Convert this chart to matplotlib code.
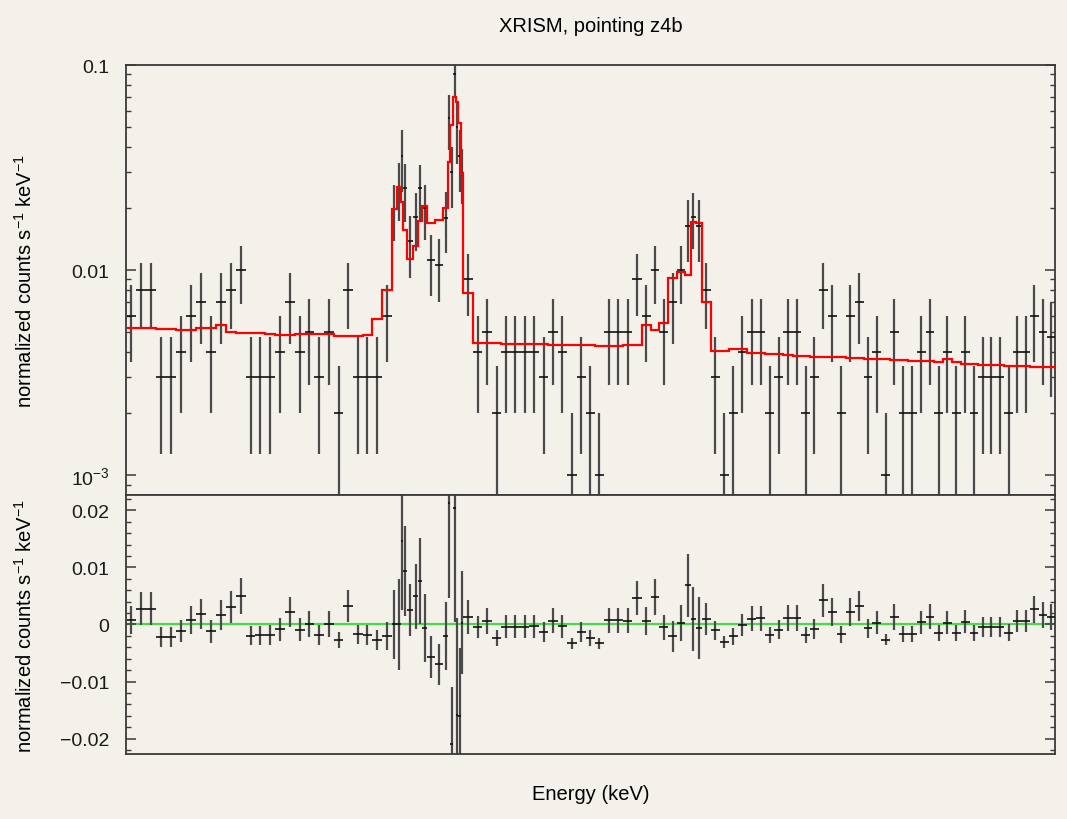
import matplotlib
matplotlib.use("Agg")
import matplotlib.pyplot as plt
import numpy as np
from matplotlib.ticker import FixedLocator, FuncFormatter, MultipleLocator

plt.rcParams['font.family'] = ['Liberation Sans', 'DejaVu Sans']
plt.rcParams['mathtext.default'] = 'regular'

# Энергетические бины (кэВ)
edges = [6.3006, 6.3122, 6.3237, 6.3355, 6.3474, 6.3592, 6.3710, 6.3825, 6.3944, 6.4062,
         6.4181, 6.4299, 6.4417, 6.4533, 6.4649, 6.4767, 6.4883, 6.5001, 6.5114, 6.5228,
         6.5344, 6.5463, 6.5575, 6.5690, 6.5803, 6.5909, 6.6028, 6.6146,
         6.6205, 6.6253, 6.6276, 6.6324, 6.6402, 6.6461, 6.6508, 6.6568, 6.6659, 6.6757,
         6.6816, 6.6836, 6.6876, 6.6908, 6.6935, 6.6963, 6.6994, 6.7112,
         6.7219, 6.7331, 6.7444, 6.7555, 6.7665, 6.7776, 6.7888, 6.8001, 6.8112, 6.8224,
         6.8334, 6.8443, 6.8550, 6.8660, 6.8775, 6.8885, 6.8995, 6.9104, 6.9211, 6.9315,
         6.9420, 6.9527, 6.9619, 6.9687, 6.9747, 6.9820, 6.9921, 7.0028, 7.0137, 7.0244,
         7.0353, 7.0462, 7.0569, 7.0675, 7.0783, 7.0892, 7.0996, 7.1099, 7.1204, 7.1310,
         7.1415, 7.1520, 7.1626, 7.1733, 7.1837, 7.1942, 7.2047, 7.2151, 7.2256, 7.2360,
         7.2467, 7.2571, 7.2674, 7.2778, 7.2884, 7.2988, 7.3091, 7.3192, 7.3293, 7.3399,
         7.3501, 7.3601, 7.3704, 7.3807, 7.3906, 7.4000]

# Данные: normalized counts s^-1 keV^-1
rate = [0.006, 0.008, 0.008, 0.003, 0.003, 0.004, 0.006, 0.007, 0.004, 0.007,
        0.008, 0.010, 0.003, 0.003, 0.003, 0.004, 0.007, 0.004, 0.005, 0.003,
        0.005, 0.002, 0.008, 0.003, 0.003, 0.003, 0.006,
        0.0199, 0.0253, 0.0361, 0.0250, 0.0138, 0.0181, 0.0250, 0.0200, 0.0112, 0.0106,
        0.0180, 0.055, 0.030, 0.090, 0.050, 0.036, 0.030, 0.009,
        0.004, 0.005, 0.002, 0.004, 0.004, 0.004, 0.004, 0.003, 0.005, 0.004,
        0.001, 0.003, 0.002, 0.001, 0.005, 0.005, 0.005, 0.009, 0.006, 0.010,
        0.005, 0.007, 0.010, 0.0164, 0.0182, 0.0164, 0.008, 0.003, 0.001, 0.002,
        0.004, 0.005, 0.005, 0.002, 0.003, 0.005, 0.005, 0.002, 0.003, 0.008,
        0.006, 0.002, 0.006, 0.007, 0.003, 0.004, 0.001, 0.005, 0.002, 0.002,
        0.004, 0.005, 0.002, 0.004, 0.002, 0.004, 0.002, 0.003, 0.003, 0.003,
        0.002, 0.004, 0.004, 0.006, 0.005, 0.0047]

rate_err = [0.00245, 0.00283, 0.00283, 0.00173, 0.00173, 0.002, 0.00245, 0.00265, 0.002, 0.00265,
            0.00283, 0.00316, 0.00173, 0.00173, 0.00173, 0.002, 0.00265, 0.002, 0.00224, 0.00173,
            0.00224, 0.00141, 0.00283, 0.00173, 0.00173, 0.00173, 0.00245,
            0.0060, 0.0079, 0.0121, 0.0079, 0.0046, 0.0057, 0.0076, 0.0060, 0.0037, 0.0036,
            0.0059, 0.0166, 0.0100, 0.0200, 0.0170, 0.0120, 0.0090, 0.0030,
            0.002, 0.00224, 0.00141, 0.002, 0.002, 0.002, 0.002, 0.00173, 0.00224, 0.002,
            0.001, 0.00173, 0.00141, 0.001, 0.00224, 0.00224, 0.00224, 0.003, 0.00245, 0.00316,
            0.00224, 0.00265, 0.00316, 0.0055, 0.0056, 0.0055, 0.00283, 0.00173, 0.001, 0.00141,
            0.002, 0.00224, 0.00224, 0.00141, 0.00173, 0.00224, 0.00224, 0.00141, 0.00173, 0.00283,
            0.00245, 0.00141, 0.00245, 0.00265, 0.00173, 0.002, 0.001, 0.00224, 0.00141, 0.00141,
            0.002, 0.00224, 0.00141, 0.002, 0.00141, 0.002, 0.00141, 0.00173, 0.00173, 0.00173,
            0.00141, 0.002, 0.002, 0.00245, 0.00224, 0.0023]

# Модель (folded), по бинам
model = [0.0052, 0.0052, 0.0052, 0.00515, 0.00515, 0.00513, 0.00513, 0.0052, 0.0052, 0.0054,
         0.00497, 0.00495, 0.00493, 0.00492, 0.0049, 0.00485, 0.00485, 0.0049, 0.0049, 0.0049,
         0.0049, 0.00476, 0.00475, 0.00475, 0.0048, 0.00577, 0.008,
         0.0199, 0.0253, 0.0215, 0.0156, 0.0113, 0.01315, 0.0174, 0.0206, 0.01694, 0.01758,
         0.0200, 0.0337, 0.0509, 0.0696, 0.0658, 0.0521, 0.0297, 0.00773,
         0.00443, 0.0044, 0.0044, 0.00438, 0.00437, 0.00436, 0.00435, 0.00434, 0.00433, 0.00432,
         0.00431, 0.0043, 0.0043, 0.00428, 0.00428, 0.00427, 0.0043, 0.0043, 0.0054, 0.0051,
         0.0055, 0.0091, 0.00975, 0.0095, 0.0172, 0.0170, 0.0070, 0.00403, 0.00405, 0.0041,
         0.0041, 0.00395, 0.00392, 0.0039, 0.00388, 0.00386, 0.00382, 0.0038, 0.00378, 0.00377,
         0.00376, 0.00375, 0.00373, 0.00372, 0.0037, 0.00369, 0.00367, 0.00365, 0.00364, 0.00362,
         0.00361, 0.0036, 0.00356, 0.00368, 0.00357, 0.0035, 0.00348, 0.00346, 0.00345, 0.00344,
         0.00341, 0.0034, 0.00339, 0.00337, 0.00336, 0.00335]

bg = '#f4f1eb'
spine_col = '#3a3a3a'
bar_col = '#4a4a4a'


def style_axis(ax):
    ax.set_facecolor(bg)
    for s in ax.spines.values():
        s.set_color(spine_col)
        s.set_linewidth(1.3)
    ax.tick_params(axis='x', which='both', bottom=False, top=False, labelbottom=False)
    ax.tick_params(axis='y', which='both', direction='in', left=True, right=True,
                   colors=spine_col, labelcolor='#1a1a1a', labelsize=14, pad=12)
    ax.tick_params(axis='y', which='major', length=7, width=1.1)
    ax.tick_params(axis='y', which='minor', length=3.5, width=1.0)


def draw_points(ax, x, y, hw, lo, hi):
    ax.vlines(x, lo, hi, color=bar_col, lw=1.6, zorder=2)
    ax.hlines(y, x - hw, x + hw, color='#111111', lw=1.2, zorder=3)


e = np.array(edges)
x = 0.5 * (e[:-1] + e[1:])
hw = 0.5 * (e[1:] - e[:-1])
y = np.array(rate)
dy = np.array(rate_err)
m = np.array(model)
res = y - m

fig = plt.figure(figsize=(10.67, 8.2), dpi=100, facecolor=bg)
ax1 = fig.add_axes([0.1181, 0.3951, 0.8707, 0.5244])
ax2 = fig.add_axes([0.1181, 0.0793, 0.8707, 0.3158])

# верхняя панель
style_axis(ax1)
ax1.set_yscale('log')
ax1.set_xlim(6.3, 7.4)
ax1.set_ylim(0.0008, 0.1)
draw_points(ax1, x, y, hw, np.maximum(y - dy, 1e-6), y + dy)
ax1.stairs(m, e, baseline=None, color='#ff0000', lw=1.6, zorder=4)
ax1.yaxis.set_major_locator(FixedLocator([0.001, 0.01, 0.1]))
ax1.yaxis.set_major_formatter(FuncFormatter(
    lambda v, p: {0.1: '0.1', 0.01: '0.01'}.get(round(v, 6), r'$10^{-3}$')))
ax1.yaxis.set_minor_locator(FixedLocator(
    [k * 10.0 ** d for d in (-4, -3, -2) for k in range(2, 10)]))
ax1.yaxis.set_minor_formatter(FuncFormatter(lambda v, p: ''))

# нижняя панель: остатки
style_axis(ax2)
ax2.set_xlim(6.3, 7.4)
ax2.set_ylim(-0.0227, 0.0227)
ax2.axhline(0, color='#44dd44', lw=1.6, zorder=1)
draw_points(ax2, x, res, hw, res - dy, res + dy)
ax2.yaxis.set_major_locator(MultipleLocator(0.01))
ax2.yaxis.set_minor_locator(MultipleLocator(0.002))
ax2.yaxis.set_major_formatter(FuncFormatter(
    lambda v, p: '0' if abs(v) < 1e-9 else ('%.2f' % v).replace('-', '\u2212')))

ylab = r'normalized counts s$^{-1}$ keV$^{-1}$'
fig.text(0.0235, 0.657, ylab, rotation=90, ha='center', va='center', fontsize=14.5)
fig.text(0.0235, 0.2365, ylab, rotation=90, ha='center', va='center', fontsize=14.5)
fig.text(0.5534, 1 - 27 / 820, 'XRISM, pointing z4b', ha='center', va='center', fontsize=14.5)
fig.text(0.5534, 1 - 795 / 820, 'Energy (keV)', ha='center', va='center', fontsize=14.5)

fig.savefig('out.png', dpi=100, facecolor=bg)
